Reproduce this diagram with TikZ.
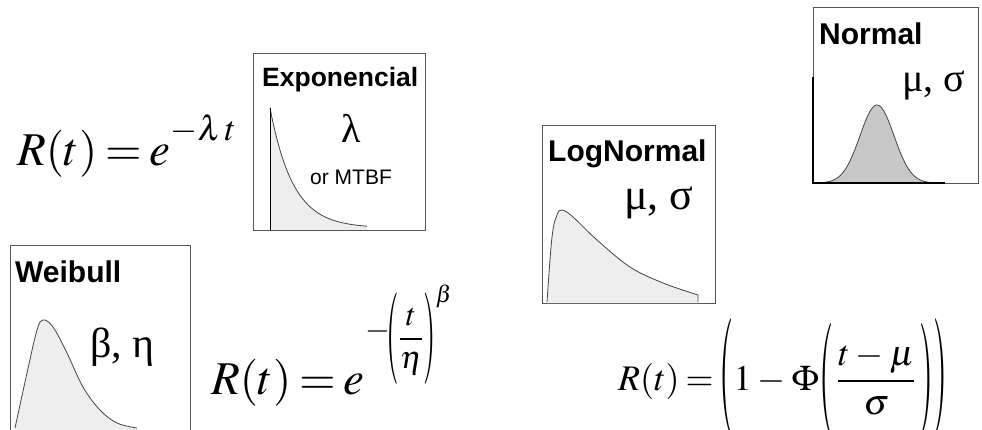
\documentclass[tikz,border=0pt]{standalone}
\usepackage{fix-cm}
\usepackage{amsmath}
\usepackage{graphicx}
\usepackage[no-math]{fontspec}
\usepackage{mathptmx}
\newfontfamily\arialf{Liberation Sans}
\newfontfamily\timesf{Liberation Serif}
\newcommand\tallparen[3]{\raisebox{#3}{\scalebox{1}[#2]{$#1$}}}
\definecolor{boxline}{HTML}{555555}
\definecolor{curvefill}{HTML}{EEEEEE}
\definecolor{normfill}{HTML}{C8C8C8}
\definecolor{curveline}{HTML}{444444}
\tikzset{
  panel/.style={draw=boxline, line width=0.9pt, fill=white},
  pdfill/.style={fill=curvefill},
  pdline/.style={draw=curveline, line width=0.8pt},
  title/.style={font=\arialf\bfseries\fontsize{30}{32}\selectfont, anchor=base west, inner sep=0pt},
  greek/.style={font=\timesf\fontsize{42}{44}\selectfont, anchor=base west, inner sep=0pt},
  formula/.style={anchor=base west, inner sep=0pt, execute at begin node={\thickmuskip=3mu\medmuskip=3mu}}
}
\begin{document}
\begin{tikzpicture}[x=1pt,y=-1pt]
\useasboundingbox (0,0) rectangle (982,430);
\fill[white] (0,0) rectangle (982,430);

% ---- Exponencial panel
\draw[panel] (253,53) rectangle (425,230);
\fill[pdfill] (270,230) -- plot[domain=0:1,samples=60] ({270+97*\x},{228-120*exp(-4.2*\x)}) -- (367,230) -- cycle;
\draw[pdline] plot[domain=0:1,samples=60] ({270+97*\x},{228-120*exp(-4.2*\x)});
\draw[black, line width=1pt] (270,108) -- (270,230);
\node[title, font=\arialf\bfseries\fontsize{26.5}{30}\selectfont] (expt) at (262,87) {Exponencial};
\node[greek, font=\timesf\fontsize{40}{42}\selectfont] (lam) at (341,143) {λ};
\node[anchor=base west, inner sep=0pt, font=\arialf\fontsize{21}{24}\selectfont] (mtbf) at (310,185) {or MTBF};

% ---- LogNormal panel
\draw[panel] (542,125) rectangle (715,303);
\fill[pdfill] plot[smooth, tension=0.6] coordinates {(547,302) (552,237) (557,215) (562,210) (573,217) (597,240) (630,267) (663,283) (698,295)} -- (698,303) -- (547,303) -- cycle;
\draw[pdline] plot[smooth, tension=0.6] coordinates {(547,302) (552,237) (557,215) (562,210) (573,217) (597,240) (630,267) (663,283) (698,295)} -- (698,302);
\node[title] (lnt) at (548,162) {LogNormal};
\node[greek, font=\timesf\fontsize{44}{46}\selectfont] (lnp) at (624,210) {μ, σ};

% ---- Normal panel
\draw[panel] (813,7) rectangle (978,183);
\fill[normfill] plot[domain=825:929,samples=80] (\x,{183-78*exp(-((\x-877)^2)/(2*17^2))}) -- cycle;
\draw[pdline] plot[domain=825:929,samples=80] (\x,{183-78*exp(-((\x-877)^2)/(2*17^2))});
\draw[black, line width=1.6pt] (813,77) -- (813,183) -- (945,183);
\node[title] (nt) at (819,45) {Normal};
\node[greek, font=\timesf\fontsize{40}{42}\selectfont] (np) at (902,92) {μ, σ};

% ---- Weibull panel
\draw[panel] (10,245) rectangle (190,440);
\fill[pdfill] plot[smooth, tension=0.6] coordinates {(15,428) (27,373) (37,330) (43,320) (53,327) (67,353) (83,387) (100,410) (117,423) (137,428)} -- (137,432) -- (15,432) -- cycle;
\draw[pdline] plot[smooth, tension=0.6] coordinates {(15,428) (27,373) (37,330) (43,320) (53,327) (67,353) (83,387) (100,410) (117,423) (137,428)};
\node[title] (wt) at (15,283) {Weibull};
\node[greek] (wp) at (90,357) {β, η};

% ---- Formulas
\node[formula, font=\fontsize{47}{54}\selectfont] (f1) at (17,166) {$R(t)=e^{\raisebox{0.18em}{$\scriptstyle -\lambda\,t$}}$};
\node[formula, font=\fontsize{47}{54}\selectfont] (f2) at (211,394) {$R(t)=e$};
\node[formula, font=\fontsize{32}{36}\selectfont, execute at begin node={\thickmuskip=3mu\medmuskip=2mu}] (f2e) at (365,347) {$\raisebox{0.25em}{$-$}\!\mathopen{\tallparen{(}{2.86}{-0.465em}}\dfrac{t}{\eta}\mathclose{\tallparen{)}{2.86}{-0.465em}}^{\beta}$};
\node[formula, font=\fontsize{36}{42}\selectfont] (f3) at (618,390) {$R(t)=\mathopen{\tallparen{(}{3.25}{-0.45em}}1-\Phi\mathopen{\tallparen{(}{3.15}{-0.5em}}\,\dfrac{t-\mu}{\sigma}\,\mathclose{\tallparen{)}{3.15}{-0.5em}}\mathclose{\tallparen{)}{3.25}{-0.45em}}$};
\end{tikzpicture}
\end{document}
